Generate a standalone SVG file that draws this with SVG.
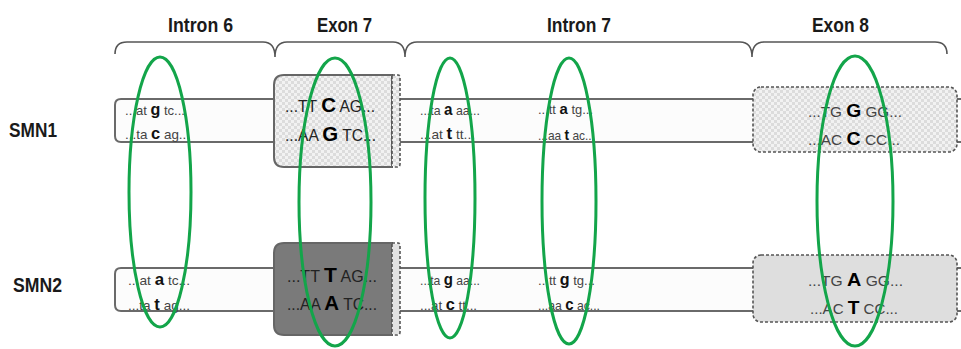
<svg xmlns="http://www.w3.org/2000/svg" width="961" height="349" viewBox="0 0 961 349">
<defs>
<pattern id="chk" width="6" height="6" patternUnits="userSpaceOnUse">
<rect width="6" height="6" fill="#f2f2f2"/>
<rect width="3" height="3" fill="#dcdcdc"/>
<rect x="3" y="3" width="3" height="3" fill="#dcdcdc"/>
</pattern>
<style>
.hdr{font-family:"Liberation Sans",Arial,sans-serif;font-weight:bold;font-size:21px;fill:#1a1a1a}
.lbl{font-family:"Liberation Sans",Arial,sans-serif;font-weight:bold;font-size:21px;fill:#1a1a1a}
.brace{fill:none;stroke:#555;stroke-width:1.6}
.bar{fill:#fcfcfc;stroke:#6a6a6a;stroke-width:2}
.in{font-family:"Liberation Sans",Arial,sans-serif;font-size:13px;fill:#444}
.in .b{font-weight:bold;font-size:16px;fill:#111}
.ex{font-family:"Liberation Sans",Arial,sans-serif;font-size:16px;fill:#222}
.ex .b{font-weight:bold;font-size:21px;fill:#000}
.e8{font-family:"Liberation Sans",Arial,sans-serif;font-size:15px;fill:#444}
.e8 .b{font-weight:bold;font-size:19px;fill:#000}
.solid{stroke:#666;stroke-width:2}
.dash{fill:none;stroke:#555;stroke-width:1.6;stroke-dasharray:3 2}
.box8{stroke:#555;stroke-width:1.6;stroke-dasharray:3 2}
.ring{fill:none;stroke:#13a54a;stroke-width:3}
</style>
</defs>
<rect width="961" height="349" fill="#fff"/>

<g id="headers">
<text class="hdr" x="168" y="32" textLength="65" lengthAdjust="spacingAndGlyphs">Intron 6</text>
<text class="hdr" x="317" y="32" textLength="55" lengthAdjust="spacingAndGlyphs">Exon 7</text>
<text class="hdr" x="547" y="32" textLength="64" lengthAdjust="spacingAndGlyphs">Intron 7</text>
<text class="hdr" x="812" y="32" textLength="57" lengthAdjust="spacingAndGlyphs">Exon 8</text>
<path class="brace" d="M115,54 Q115,42 127,42 L263,42 Q275,42 275,57 Q275,42 287,42 L393,42 Q405,42 405,57 Q405,42 417,42 L740,42 Q752,42 752,57 Q752,42 764,42 L935,42 Q947,42 947,54"/>
</g>

<g id="smn1">
<text class="lbl" x="9" y="137" textLength="48" lengthAdjust="spacingAndGlyphs">SMN1</text>
<path class="bar" d="M961,99 L121,99 Q115,99 115,105 L115,136 Q115,142 121,142 L961,142"/>
<g id="smn1-exon7">
<path d="M392,75 L284,75 Q274,75 274,85 L274,157 Q274,167 284,167 L392,167 Z" fill="url(#chk)" class="solid"/>
<rect x="392" y="76" width="8" height="90" fill="url(#chk)"/>
<line class="dash" x1="392" y1="76" x2="392" y2="166"/>
<path class="dash" d="M392,75 L398,75 Q400,75 400,78 L400,164 Q400,167 397,167 L392,167"/>
<text class="ex" x="285" y="112" textLength="90" lengthAdjust="spacingAndGlyphs">...TT <tspan class="b">C</tspan> AG...</text>
<text class="ex" x="285" y="141" textLength="91" lengthAdjust="spacingAndGlyphs">...AA <tspan class="b">G</tspan> TC...</text>
</g>
<g id="smn1-exon8">
<rect x="753" y="87" width="204" height="65" rx="8" style="fill:url(#chk)" class="box8"/>
<text class="e8" x="808" y="117" textLength="94" lengthAdjust="spacingAndGlyphs">...TG <tspan class="b">G</tspan> GG...</text>
<text class="e8" x="808" y="145" textLength="92" lengthAdjust="spacingAndGlyphs">...AC <tspan class="b">C</tspan> CC...</text>
</g>
<g id="smn1-intron6">
<text class="in" x="125" y="115" textLength="60" lengthAdjust="spacingAndGlyphs">...at <tspan class="b">g</tspan> tc...</text>
<text class="in" x="125" y="139" textLength="65" lengthAdjust="spacingAndGlyphs">...ta <tspan class="b">c</tspan> ag...</text>
</g>
<g id="smn1-intron7">
<text class="in" x="420" y="115" textLength="60" lengthAdjust="spacingAndGlyphs">...ta <tspan class="b">a</tspan> aa...</text>
<text class="in" x="420" y="139" textLength="55" lengthAdjust="spacingAndGlyphs">...at <tspan class="b">t</tspan> tt...</text>
<text class="in" x="538" y="114" textLength="55" lengthAdjust="spacingAndGlyphs">...tt <tspan class="b" style="font-size:15px">a</tspan> tg...</text>
<text class="in" x="538" y="140" textLength="57" lengthAdjust="spacingAndGlyphs">...aa <tspan class="b" style="font-size:15px">t</tspan> ac...</text>
</g>
</g>

<g id="smn2">
<text class="lbl" x="13" y="292" textLength="49" lengthAdjust="spacingAndGlyphs">SMN2</text>
<path class="bar" d="M961,268 L121,268 Q115,268 115,274 L115,305 Q115,311 121,311 L961,311"/>
<g id="smn2-exon7">
<path d="M392,243 L284,243 Q274,243 274,253 L274,325 Q274,335 284,335 L392,335 Z" fill="#7a7a7a" class="solid"/>
<rect x="392" y="244" width="8" height="90" fill="#e2e2e2"/>
<line class="dash" x1="392" y1="244" x2="392" y2="334"/>
<path class="dash" d="M392,243 L398,243 Q400,243 400,246 L400,332 Q400,335 397,335 L392,335"/>
<text class="ex" x="287" y="282" textLength="90" lengthAdjust="spacingAndGlyphs">...TT <tspan class="b">T</tspan> AG...</text>
<text class="ex" x="287" y="310" textLength="90" lengthAdjust="spacingAndGlyphs">...AA <tspan class="b">A</tspan> TC...</text>
</g>
<g id="smn2-exon8">
<rect x="753" y="255" width="204" height="67" rx="8" style="fill:#dedede" class="box8"/>
<text class="e8" x="808" y="286" textLength="95" lengthAdjust="spacingAndGlyphs">...TG <tspan class="b">A</tspan> GG...</text>
<text class="e8" x="810" y="314" textLength="88" lengthAdjust="spacingAndGlyphs">...AC <tspan class="b">T</tspan> CC...</text>
</g>
<g id="smn2-intron6">
<text class="in" x="128" y="285" textLength="62" lengthAdjust="spacingAndGlyphs">...at <tspan class="b">a</tspan> tc...</text>
<text class="in" x="128" y="310" textLength="62" lengthAdjust="spacingAndGlyphs">...ta <tspan class="b">t</tspan> ag...</text>
</g>
<g id="smn2-intron7">
<text class="in" x="420" y="285" textLength="60" lengthAdjust="spacingAndGlyphs">...ta <tspan class="b">g</tspan> aa...</text>
<text class="in" x="420" y="310" textLength="57" lengthAdjust="spacingAndGlyphs">...at <tspan class="b">c</tspan> tt...</text>
<text class="in" x="538" y="285" textLength="57" lengthAdjust="spacingAndGlyphs">...tt <tspan class="b">g</tspan> tg...</text>
<text class="in" x="538" y="310" textLength="62" lengthAdjust="spacingAndGlyphs">...aa <tspan class="b">c</tspan> ac...</text>
</g>
</g>

<g id="connectors">
<ellipse class="ring" cx="160" cy="192" rx="31" ry="135"/>
<ellipse class="ring" cx="335" cy="202" rx="36" ry="144"/>
<ellipse class="ring" cx="450" cy="198" rx="25" ry="140"/>
<ellipse class="ring" cx="569" cy="201" rx="27" ry="143"/>
<ellipse class="ring" cx="855" cy="201" rx="38" ry="145"/>
</g>
</svg>
